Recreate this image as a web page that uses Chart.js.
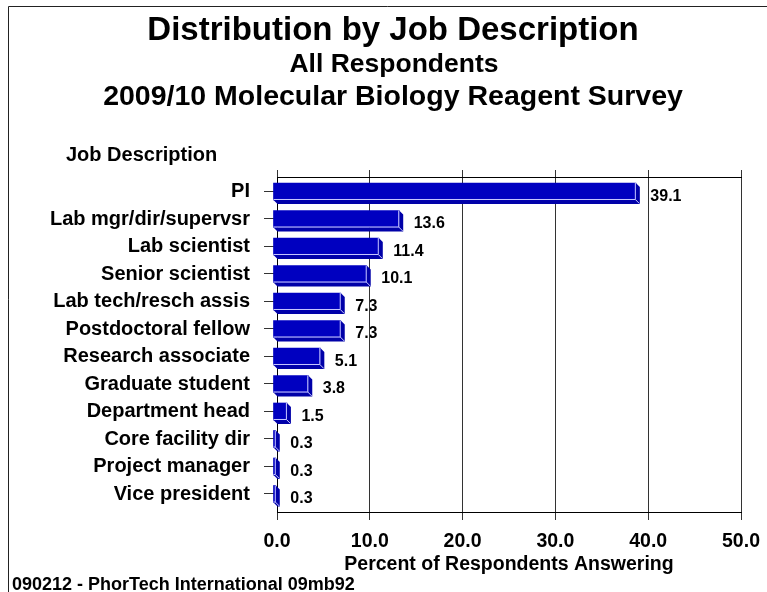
<!DOCTYPE html>
<html>
<head>
<meta charset="utf-8">
<title>Distribution by Job Description</title>
<script src="https://cdn.jsdelivr.net/npm/chart.js@4.4.1/dist/chart.umd.min.js"></script>
<style>
    html, body { margin: 0; padding: 0; background: #fff; }
    canvas { display: block; }
</style>
</head>
<body>
<canvas id="jobChart" width="767" height="592"></canvas>
<script>
const jobs = [
    'PI',
    'Lab mgr/dir/supervsr',
    'Lab scientist',
    'Senior scientist',
    'Lab tech/resch assis',
    'Postdoctoral fellow',
    'Research associate',
    'Graduate student',
    'Department head',
    'Core facility dir',
    'Project manager',
    'Vice president'
];
const percents = [39.1, 13.6, 11.4, 10.1, 7.3, 7.3, 5.1, 3.8, 1.5, 0.3, 0.3, 0.3];
const xTicks = [0, 10, 20, 30, 40, 50];

const titleLines = [
    'Distribution by Job Description',
    'All Respondents',
    '2009/10 Molecular Biology Reagent Survey'
];
const yAxisLabel = 'Job Description';
const xAxisLabel = 'Percent of Respondents Answering';
const footerText = '090212 - PhorTech International 09mb92';

const FONT = '"Liberation Sans", Arial, Helvetica, sans-serif';
const FACE = '#0000c0';
const SIDE = '#0000a8';
const EDGE = '#c8c8ff';
const DEPTH = 4;

// draws the fake 3d look plus all the loose text around the plot
const decorations = {
    id: 'decorations',
    beforeDraw(chart) {
        const ctx = chart.ctx;
        ctx.save();

        // outer frame (left + top only)
        ctx.strokeStyle = '#222';
        ctx.lineWidth = 1;
        ctx.beginPath();
        ctx.moveTo(8.5, chart.height);
        ctx.lineTo(8.5, 6.5);
        ctx.lineTo(chart.width, 6.5);
        ctx.stroke();

        ctx.fillStyle = '#000';
        ctx.textAlign = 'center';
        ctx.textBaseline = 'alphabetic';
        ctx.font = `bold 33px ${FONT}`;
        ctx.fillText(titleLines[0], 393, 40);
        ctx.font = `bold 26.5px ${FONT}`;
        ctx.fillText(titleLines[1], 394, 72);
        ctx.font = `bold 28.5px ${FONT}`;
        ctx.fillText(titleLines[2], 393, 105);

        ctx.textAlign = 'left';
        ctx.font = `bold 20px ${FONT}`;
        ctx.fillText(yAxisLabel, 66, 161);

        ctx.font = `bold 18px ${FONT}`;
        ctx.fillText(footerText, 12, 590);

        // value labels go under the grid lines, like the original
        const meta = chart.getDatasetMeta(0);
        ctx.font = `bold 16px ${FONT}`;
        ctx.textBaseline = 'middle';
        meta.data.forEach((bar, i) => {
            ctx.fillText(percents[i].toFixed(1), bar.x + 10.5, bar.y + 5);
        });

        ctx.restore();
    },
    beforeDatasetsDraw(chart) {
        const ctx = chart.ctx;
        const meta = chart.getDatasetMeta(0);
        ctx.save();
        ctx.fillStyle = SIDE;
        meta.data.forEach((bar) => {
            const half = bar.height / 2;
            const fl = bar.base - DEPTH;
            const fr = bar.x - DEPTH;
            const ft = bar.y - half;
            const fb = bar.y + half;
            ctx.beginPath();
            ctx.moveTo(fr, ft);
            ctx.lineTo(fr + DEPTH, ft + DEPTH);
            ctx.lineTo(fr + DEPTH, fb + DEPTH);
            ctx.lineTo(fl + DEPTH, fb + DEPTH);
            ctx.lineTo(fl, fb);
            ctx.lineTo(fr, fb);
            ctx.closePath();
            ctx.fill();
        });
        ctx.restore();
    },
    beforeDatasetDraw(chart) {
        chart.ctx.save();
        chart.ctx.translate(-DEPTH, 0);
    },
    afterDatasetDraw(chart) {
        chart.ctx.restore();
    },
    afterDatasetsDraw(chart) {
        const ctx = chart.ctx;
        const meta = chart.getDatasetMeta(0);
        ctx.save();
        ctx.strokeStyle = EDGE;
        ctx.lineWidth = 1;
        meta.data.forEach((bar) => {
            const half = bar.height / 2;
            const fl = bar.base - DEPTH;
            const fr = bar.x - DEPTH;
            const ft = bar.y - half;
            const fb = bar.y + half;
            ctx.beginPath();
            ctx.moveTo(fl, fb - 0.5);
            ctx.lineTo(fr - 0.5, fb - 0.5);
            ctx.lineTo(fr - 0.5, ft);
            ctx.moveTo(fr - 0.5, fb - 0.5);
            ctx.lineTo(fr + DEPTH - 0.5, fb + DEPTH - 0.5);
            ctx.stroke();
        });
        ctx.restore();
    }
};

new Chart(document.getElementById('jobChart'), {
    type: 'bar',
    data: {
        datasets: [{
            data: percents.map((value, i) => ({ x: value, y: i })),
            backgroundColor: FACE,
            borderWidth: 0,
            barThickness: 17,
            clip: false
        }]
    },
    options: {
        indexAxis: 'y',
        responsive: false,
        devicePixelRatio: 1,
        animation: false,
        layout: {
            padding: { left: 0, right: 26, top: 0, bottom: 0 }
        },
        plugins: {
            legend: { display: false },
            tooltip: { enabled: false }
        },
        scales: {
            x: {
                type: 'linear',
                position: 'bottom',
                min: xTicks[0],
                max: xTicks[xTicks.length - 1],
                afterBuildTicks: (scale) => {
                    scale.ticks = xTicks.map((value) => ({ value }));
                },
                afterFit: (scale) => {
                    scale.height = 80;
                    scale.paddingRight = 0;
                },
                ticks: {
                    callback: (value) => Number(value).toFixed(1),
                    color: '#000',
                    padding: 10,
                    maxRotation: 0,
                    font: { family: FONT, size: 19.5, weight: 'bold' }
                },
                grid: {
                    color: '#333',
                    tickLength: 8,
                    lineWidth: 1
                },
                border: { display: true, color: '#000' },
                title: {
                    display: true,
                    text: xAxisLabel,
                    color: '#000',
                    padding: { top: 0, bottom: 16 },
                    font: { family: FONT, size: 19.5, weight: 'bold' }
                }
            },
            x2: {
                type: 'linear',
                position: 'top',
                min: xTicks[0],
                max: xTicks[xTicks.length - 1],
                afterBuildTicks: (scale) => {
                    scale.ticks = xTicks.map((value) => ({ value }));
                },
                afterFit: (scale) => {
                    scale.height = 177;
                },
                ticks: { display: false },
                grid: {
                    color: '#333',
                    drawOnChartArea: false,
                    tickLength: 7
                },
                border: { display: true, color: '#000' }
            },
            y: {
                type: 'linear',
                position: 'left',
                reverse: true,
                offset: false,
                min: -0.527,
                max: 11.655,
                afterBuildTicks: (scale) => {
                    scale.ticks = jobs.map((_, i) => ({ value: i }));
                },
                afterFit: (scale) => {
                    scale.width = 277;
                },
                ticks: {
                    callback: (value) => jobs[value],
                    color: '#000',
                    padding: 14,
                    autoSkip: false,
                    font: { family: FONT, size: 20, weight: 'bold' }
                },
                grid: {
                    color: '#333',
                    offset: false,
                    drawOnChartArea: false,
                    tickLength: 13
                },
                border: { display: true, color: '#000' }
            }
        }
    },
    plugins: [decorations]
});
</script>
</body>
</html>
